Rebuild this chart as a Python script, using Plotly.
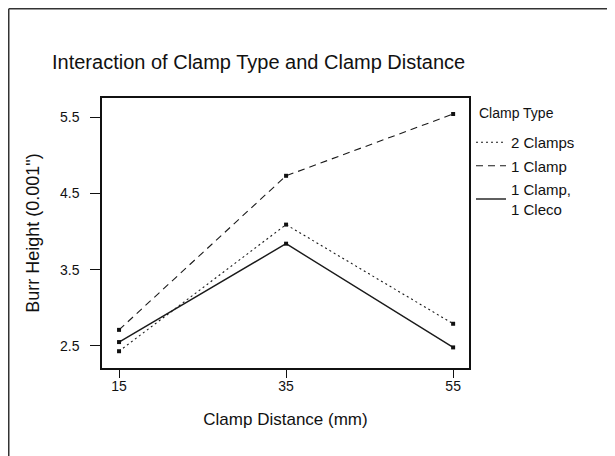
import plotly.graph_objects as go

distances = [15, 35, 55]
two_clamps = [2.43, 4.09, 2.79]
one_clamp = [2.71, 4.73, 5.54]
clamp_cleco = [2.55, 3.84, 2.48]
y_ticks = [2.5, 3.5, 4.5, 5.5]

series = [
    ("2 Clamps", two_clamps, "2px,3px", 1.1),
    ("1 Clamp", one_clamp, "7px,5px", 1.1),
    ("1 Clamp,<br>1 Cleco", clamp_cleco, "solid", 1.4),
]

FONT = "Liberation Sans, Arial, sans-serif"
fig = go.Figure()
for i, (name, vals, dash, lw) in enumerate(series):
    fig.add_trace(go.Scatter(
        x=distances, y=vals, mode="lines", name=name,
        line=dict(color="#1a1a1a", width=lw, dash=dash),
        legendgroup=f"g{i}",
    ))
    fig.add_trace(go.Scatter(
        x=distances, y=vals, mode="markers", showlegend=False,
        marker=dict(color="#111111", size=4, symbol="square"),
        legendgroup=f"g{i}", hoverinfo="skip",
    ))

# figure coordinates (page body adds an 8px offset)
W, H = 607, 448
L, R, T, B = 94, 461, 90, 360
pw, ph = R - L, B - T

def px(xp):
    return (xp - L) / pw

def py(yp):
    return (B - yp) / ph

fig.update_layout(
    width=W, height=H,
    margin=dict(l=L, r=W - R, t=T, b=H - B, autoexpand=False),
    paper_bgcolor="white", plot_bgcolor="white",
    font=dict(family=FONT, color="#111111", size=14),
    title=dict(text="Interaction of Clamp Type and Clamp Distance",
               x=44 / W, xanchor="left", y=1 - 54 / H, yanchor="middle",
               font=dict(size=20, family=FONT, color="#111111")),
    xaxis=dict(range=[12.96, 56.9], tickvals=distances, ticktext=[str(d) for d in distances],
               showgrid=False, zeroline=False, showline=True, linecolor="#111111",
               linewidth=1.5, mirror=True, ticks="outside", ticklen=8, tickwidth=1,
               tickcolor="#111111", tickfont=dict(size=14), ticklabelstandoff=-4,
               title=dict(text="Clamp Distance (mm)", font=dict(size=17), standoff=21)),
    yaxis=dict(range=[2.21, 5.75], tickvals=y_ticks,
               ticktext=[f"{v:.1f}" for v in y_ticks],
               showgrid=False, zeroline=False, showline=True, linecolor="#111111",
               linewidth=1.5, mirror=True, ticks="outside", ticklen=10, tickwidth=1,
               tickcolor="#111111", tickfont=dict(size=14), ticklabelstandoff=8,
               title=dict(text="Burr Height (0.001\")", font=dict(size=18), standoff=16)),
    legend=dict(x=px(463), xanchor="left", y=py(118), yanchor="top",
                font=dict(size=15), tracegroupgap=1, bgcolor="rgba(0,0,0,0)",
                itemwidth=30),
    showlegend=True,
)

# legend heading
fig.add_annotation(text="Clamp Type", xref="paper", yref="paper", x=px(469), y=py(105),
                   xanchor="left", yanchor="middle", showarrow=False,
                   font=dict(size=14, family=FONT, color="#111111"))

# outer border lines
fig.add_shape(type="line", xref="paper", yref="paper", x0=px(0.75), x1=px(W), y0=py(0.75), y1=py(0.75),
              line=dict(color="#333333", width=1.5))
fig.add_shape(type="line", xref="paper", yref="paper", x0=px(0.75), x1=px(0.75), y0=py(0.75), y1=py(H),
              line=dict(color="#333333", width=1.5))

fig.write_html("out.html")
